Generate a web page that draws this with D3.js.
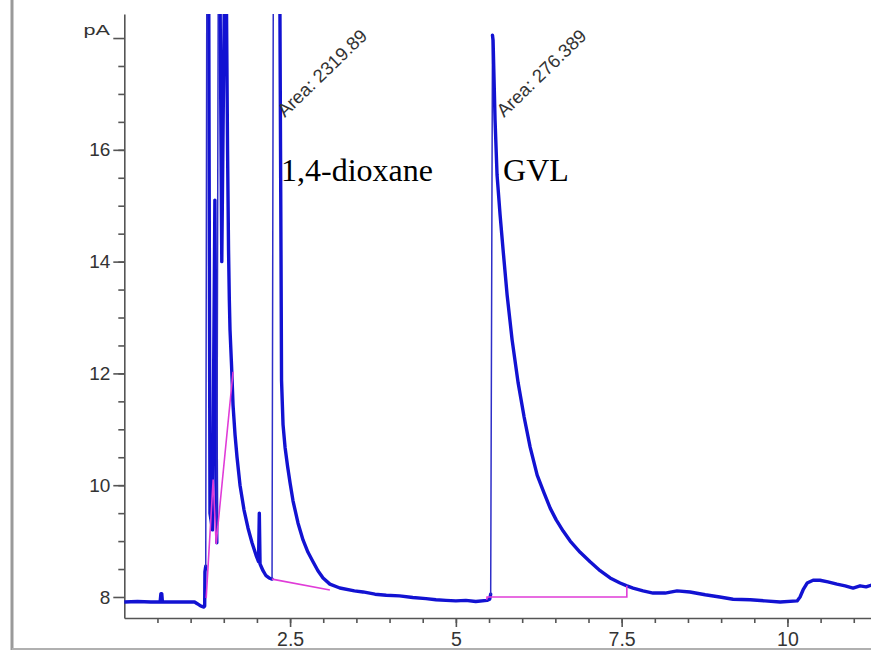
<!DOCTYPE html>
<html>
<head>
<meta charset="utf-8">
<script src="https://cdn.jsdelivr.net/npm/d3@7"></script>
<style>
  html, body { margin: 0; padding: 0; background: #fff; }
  svg { display: block; }
</style>
</head>
<body>
<svg id="chart" width="871" height="650"></svg>
<script>
// FID chromatogram: retention time (min) and detector signal (pA)
const traceTime = [
  0.00, 0.20, 0.40, 0.54, 0.552, 0.565, 0.575, 0.75, 0.95, 1.06, 1.10, 1.15, 1.20, 1.212,
  1.216, 1.228, 1.245, 1.272, 1.292, 1.33, 1.366, 1.395, 1.418, 1.44, 1.47, 1.515, 1.535,
  1.557, 1.572, 1.584, 1.594, 1.617, 1.640, 1.670, 1.700, 1.745, 1.805, 1.866, 1.926, 1.986,
  2.024, 2.036, 2.047, 2.092, 2.137, 2.183, 2.228,
  2.247, 2.330, 2.345, 2.356, 2.363, 2.371, 2.394, 2.424, 2.462, 2.500, 2.544, 2.620, 2.695,
  2.770, 2.846, 2.920, 2.997, 3.10, 3.25, 3.47, 3.60, 3.78, 3.95, 4.15, 4.35, 4.55, 4.70,
  4.85, 5.00, 5.15, 5.30, 5.47, 5.51, 5.525,
  5.552, 5.561, 5.576, 5.591, 5.621, 5.667, 5.712, 5.773, 5.848, 5.939, 6.029, 6.120, 6.226,
  6.331, 6.422, 6.513, 6.618, 6.724, 6.874, 7.024, 7.175, 7.326, 7.476, 7.58, 7.672, 7.823,
  7.974, 8.155, 8.336, 8.53, 8.76, 8.98, 9.18, 9.44, 9.66, 9.89, 10.146, 10.19, 10.237,
  10.297, 10.387, 10.49, 10.61, 10.747, 10.87, 10.99, 11.095, 11.186, 11.26
];
const traceSignal = [
  7.91, 7.92, 7.91, 7.91, 8.06, 8.06, 7.91, 7.91, 7.91, 7.91, 7.88, 7.84, 7.82, 7.84,
  8.45, 8.55, 19.5, 19.5, 9.5, 9.2, 15.1, 8.97, 19.5, 19.5, 14.0, 19.5, 19.5,
  16.0, 14.21, 13.31, 12.78, 12.15, 11.43, 10.90, 10.50, 10.00, 9.56, 9.23, 8.97, 8.75,
  8.63, 9.50, 8.59, 8.47, 8.38, 8.34, 8.32,
  19.0, 19.0, 19.0, 16.0, 14.2, 11.88, 11.08, 10.68, 10.34, 10.04, 9.72, 9.32, 9.02,
  8.80, 8.63, 8.47, 8.34, 8.23, 8.16, 8.11, 8.09, 8.05, 8.03, 8.02, 7.99, 7.97, 7.95,
  7.94, 7.93, 7.94, 7.92, 7.94, 7.96, 8.05,
  18.05, 17.96, 17.25, 16.53, 15.55, 14.83, 14.21, 13.40, 12.60, 11.83, 11.22, 10.68, 10.18,
  9.86, 9.59, 9.38, 9.18, 9.00, 8.80, 8.63, 8.47, 8.34, 8.25, 8.20, 8.16, 8.11,
  8.07, 8.07, 8.11, 8.09, 8.04, 8.00, 7.96, 7.95, 7.93, 7.91, 7.93, 8.00, 8.13,
  8.25, 8.30, 8.30, 8.27, 8.23, 8.20, 8.16, 8.20, 8.18, 8.21
];

// Integration baselines [time, signal]
const baselineSolventFront = [[1.235, 7.98], [1.34, 10.1], [1.385, 8.95], [1.64, 12.03]];
const baselineDioxane = [[2.228, 8.32], [3.10, 8.125]];
const baselineGVL = [[5.466, 7.95], [5.47, 8.0], [7.578, 8.0], [7.578, 8.2]];

// Peak annotations
const peakNames = ["1,4-dioxane", "GVL"];
const peakNameTimes = [2.363, 5.712];
const peakAreas = ["Area: 2319.89", "Area: 276.389"];
const peakAreaTimes = [2.42, 5.727];

// Axis ticks
const xMajorTicks = [2.5, 5, 7.5, 10];
const xTickLabels = ["2.5", "5", "7.5", "10"];
const xMinorTicks = d3.range(0.5, 11.01, 0.5);
const yMajorTicks = [8, 10, 12, 14, 16, 18];
const yTickLabels = ["8", "10", "12", "14", "16", ""];
const yMinorTicks = d3.range(8.5, 18, 0.5);
const yUnit = "pA";

const svg = d3.select("#chart");

// frame lines at the left and bottom edges
svg.append("line").attr("x1", 12).attr("x2", 12).attr("y1", 0).attr("y2", 650)
  .attr("stroke", "#9a9a9a").attr("stroke-width", 3);
svg.append("line").attr("x1", 12).attr("x2", 871).attr("y1", 649).attr("y2", 649)
  .attr("stroke", "#b0b0b0").attr("stroke-width", 2);

const x = d3.scaleLinear().domain([0, 11.26]).range([124.3, 871]);
const y = d3.scaleLinear().domain([7.624, 18.43]).range([618, 14]);

const axisColor = "#555";
const fontFamily = "'Liberation Sans', Arial, Helvetica, sans-serif";

// x axis
const gx = svg.append("g").attr("transform", "translate(0,618)").attr("color", axisColor);
gx.call(d3.axisBottom(x).tickValues(xMinorTicks).tickSize(5).tickSizeOuter(0).tickFormat(""));
gx.select(".domain").remove();
const gx2 = svg.append("g").attr("transform", "translate(0,618)").attr("color", axisColor);
gx2.call(d3.axisBottom(x).tickValues(xMajorTicks).tickSize(9).tickSizeOuter(0).tickPadding(5)
  .tickFormat((d, i) => xTickLabels[i]));
gx2.selectAll(".tick text").attr("font-size", 19.5);

// y axis
const gy = svg.append("g").attr("transform", "translate(124.3,0)").attr("color", axisColor);
gy.call(d3.axisLeft(y).tickValues(yMinorTicks).tickSize(6).tickSizeOuter(0).tickFormat(""));
gy.select(".domain").remove();
const gy2 = svg.append("g").attr("transform", "translate(124.3,0)").attr("color", axisColor);
gy2.call(d3.axisLeft(y).tickValues(yMajorTicks).tickSize(11).tickSizeOuter(0).tickPadding(3)
  .tickFormat((d, i) => yTickLabels[i]));
gy2.selectAll(".tick text").attr("font-size", 19);

svg.selectAll(".tick line, .domain").attr("stroke-width", 1.6);
svg.selectAll(".tick text").attr("font-family", fontFamily).attr("fill", "#333");

svg.append("text")
  .attr("transform", "translate(110,35) scale(1.2,0.8)")
  .attr("text-anchor", "end")
  .attr("font-family", fontFamily).attr("font-size", 18).attr("fill", "#333")
  .text(yUnit);

// plot clip
svg.append("clipPath").attr("id", "plot-clip")
  .append("rect").attr("x", 124.3).attr("y", 14).attr("width", 871 - 124.3).attr("height", 604);

const plot = svg.append("g").attr("clip-path", "url(#plot-clip)");

const trace = traceTime.map((t, i) => [t, traceSignal[i]]);
const line = d3.line().x(d => x(d[0])).y(d => y(d[1]));

// Split the trace into runs: steep leading edges leaving the baseline are drawn thin
const runs = [];
for (let i = 0; i < trace.length - 1; i++) {
  const a = trace[i], b = trace[i + 1];
  const steepRise = (b[1] - a[1]) > 6 && (b[0] - a[0]) < 0.03 && a[1] < 9.0;
  const kind = steepRise ? "edge" : "body";
  const last = runs[runs.length - 1];
  if (last && last.kind === kind) last.pts.push(b);
  else runs.push({ kind, pts: [a, b] });
}

plot.selectAll("path.trace").data(runs).join("path")
  .attr("class", "trace")
  .attr("d", r => line(r.pts))
  .attr("fill", "none")
  .attr("stroke", r => r.kind === "edge" ? "#2e2ec8" : "#1212d2")
  .attr("stroke-width", r => r.kind === "edge" ? 1.5 : 3.4)
  .attr("stroke-linejoin", "round")
  .attr("stroke-linecap", "round");

[baselineSolventFront, baselineDioxane, baselineGVL].forEach(b => {
  plot.append("path").datum(b)
    .attr("d", line)
    .attr("fill", "none")
    .attr("stroke", "#e03cd8")
    .attr("stroke-width", 1.6);
});

// area annotations
peakAreas.forEach((txt, i) => {
  svg.append("text")
    .attr("transform", `translate(${x(peakAreaTimes[i])},118) rotate(-44)`)
    .attr("font-family", fontFamily).attr("font-size", 18.5).attr("fill", "#333")
    .text(txt);
});

// compound names
peakNames.forEach((txt, i) => {
  svg.append("text")
    .attr("x", x(peakNameTimes[i])).attr("y", 181)
    .attr("font-family", "'Liberation Serif', 'Times New Roman', serif")
    .attr("font-size", 32).attr("fill", "#000")
    .text(txt);
});
</script>
</body>
</html>
